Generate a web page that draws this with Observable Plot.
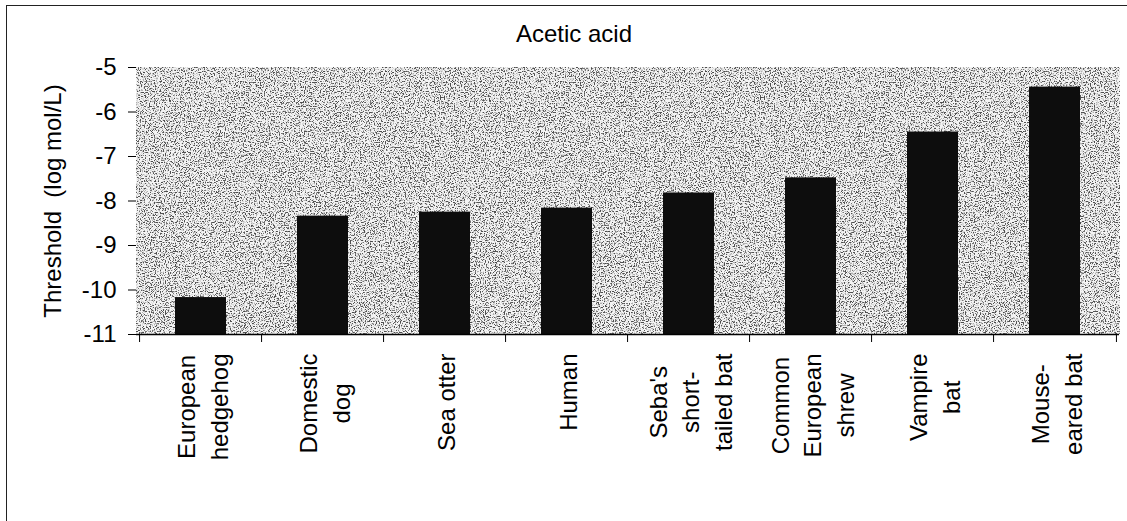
<!DOCTYPE html>
<html>
<head>
<meta charset="utf-8">
<script src="https://cdn.jsdelivr.net/npm/d3@7"></script>
<script src="https://cdn.jsdelivr.net/npm/@observablehq/plot@0.6"></script>
<style>
  html, body { margin: 0; padding: 0; background: #fff; overflow: hidden; }
  #wrap { position: relative; width: 1127px; height: 521px; overflow: hidden; font-family: "Liberation Sans", Arial, sans-serif; }
  #border { position: absolute; left: 6px; top: 5px; width: 1300px; height: 700px; border-left: 1px solid #222; border-top: 1px solid #222; }
  #title { position: relative; width: 1148px; height: 52px; box-sizing: border-box; padding-top: 22px; line-height: 24px; font-size: 24px; text-align: center; color: #000; }
  #chart { position: relative; }
  #chart svg { display: block; }
</style>
</head>
<body>
<div id="wrap">
  <div id="border"></div>
  <div id="title"></div>
  <div id="chart"></div>
</div>
<script>
// ---- data ----
const chartTitle = "Acetic acid";
const yLabel = "Threshold  (log mol/L)";
const categories = [
  "European\nhedgehog",
  "Domestic\ndog",
  "Sea otter",
  "Human",
  "Seba's\nshort-\ntailed bat",
  "Common\nEuropean\nshrew",
  "Vampire\nbat",
  "Mouse-\neared bat"
];
const thresholds = [-10.17, -8.34, -8.25, -8.16, -7.82, -7.48, -6.45, -5.44];
const yTicks = [-11, -10, -9, -8, -7, -6, -5];

// ---- layout ----
const W = 1127, H = 469;
const mL = 136, mR = 8, mT = 15, mB = 187;
const FONT = "24px 'Liberation Sans', Arial, sans-serif";
const step = (W - mL - mR) / categories.length;
const yMin = yTicks[0];

document.getElementById("title").textContent = chartTitle;

const data = categories.map((c, i) => ({cat: c, value: thresholds[i]}));

// measure longest line of each label to centre the rotated block below the axis
const ctx = document.createElement("canvas").getContext("2d");
ctx.font = FONT;
const labelMarks = categories.map(c => {
  const maxW = d3.max(c.split("\n"), s => ctx.measureText(s).width);
  return Plot.text([c], {
    x: d => d, frameAnchor: "bottom", rotate: -90,
    textAnchor: "middle", lineAnchor: "middle", lineHeight: 1.36,
    dy: 19 + maxW / 2, fill: "#000"
  });
});

const plot = Plot.plot({
  width: W, height: H,
  marginLeft: mL, marginRight: mR, marginTop: mT, marginBottom: mB,
  style: {fontFamily: "'Liberation Sans', Arial, sans-serif", fontSize: "24px", color: "#000", background: "transparent", overflow: "visible"},
  x: {domain: categories, paddingInner: 0.58, paddingOuter: 0.29, axis: null},
  y: {domain: [yTicks[0], yTicks[yTicks.length - 1]], axis: null},
  marks: [
    Plot.frame({fill: "#bdbdbd", ariaLabel: "speckle"}),
    Plot.barY(data, {x: "cat", y1: () => yMin, y2: "value", fill: "#0d0d0d"}),
    Plot.axisY({ticks: yTicks, tickSize: 8, tickPadding: 12, label: null, line: true, stroke: "#000", tickFormat: d => d}),
    Plot.axisY({anchor: "right", ticks: [], label: null, line: true, stroke: "#777"}),
    Plot.ruleY([yMin], {stroke: "#000", strokeWidth: 1.5}),
    Plot.ruleX(categories, {x: d => d, y1: () => yMin, y2: () => yMin, insetBottom: -8, dx: -step / 2, stroke: "#000"}),
    Plot.ruleX(categories.slice(-1), {x: d => d, y1: () => yMin, y2: () => yMin, insetBottom: -8, dx: step / 2, stroke: "#000"}),
    ...labelMarks,
    Plot.text([yLabel], {text: d => d, frameAnchor: "left", rotate: -90, dx: -83, textAnchor: "middle", lineAnchor: "middle", fill: "#000"})
  ]
});

// speckled (stippled) plot background like the printed original
const ns = "http://www.w3.org/2000/svg";
const defs = document.createElementNS(ns, "defs");
defs.innerHTML = `
<filter id="spk" x="0" y="0" width="1" height="1" color-interpolation-filters="sRGB">
  <feTurbulence type="fractalNoise" baseFrequency="0.8" numOctaves="2" seed="5" result="n"/>
  <feColorMatrix in="n" type="matrix" values="0 0 0 0 0.3  0 0 0 0 0.3  0 0 0 0 0.3  1 0 0 0 0" result="a"/>
  <feComponentTransfer in="a" result="d">
    <feFuncA type="discrete" tableValues="0 0 0 0 0 0 0 0 0 0 0.15 0.4 0.75 0.95 1 1 1 1 1 1"/>
  </feComponentTransfer>
  <feFlood flood-color="#f4f4f4" result="w"/>
  <feMerge><feMergeNode in="w"/><feMergeNode in="d"/></feMerge>
</filter>`;
plot.insertBefore(defs, plot.firstChild);
const bg = plot.querySelector('[aria-label="speckle"] rect') || plot.querySelector('[aria-label="speckle"]');
if (bg) bg.setAttribute("filter", "url(#spk)");

document.getElementById("chart").appendChild(plot);
</script>
</body>
</html>
